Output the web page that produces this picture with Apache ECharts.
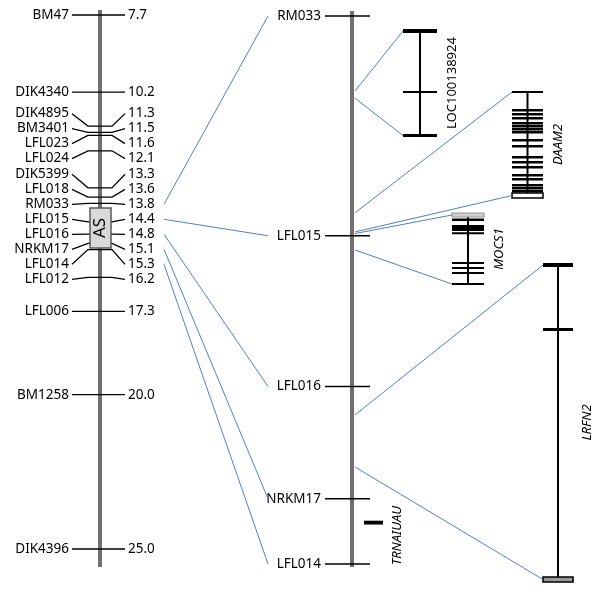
<!DOCTYPE html>
<html><head><meta charset="utf-8">
<script src="https://cdn.jsdelivr.net/npm/echarts@6/dist/echarts.min.js"></script>
<style>html,body{margin:0;padding:0;background:#fff}#c{width:600px;height:593px}</style>
</head><body><div id="c"></div>
<script>
// ================= DATA =================
// Linkage map (cM)
const leftMarkers = ['BM47','DIK4340','DIK4895','BM3401','LFL023','LFL024','DIK5399','LFL018','RM033','LFL015','LFL016','NRKM17','LFL014','LFL012','LFL006','BM1258','DIK4396'];
const leftPositions = [7.7,10.2,11.3,11.5,11.6,12.1,13.3,13.6,13.8,14.4,14.8,15.1,15.3,16.2,17.3,20.0,25.0];
const asLabel = 'AS';
const asRegion = [13.95, 15.25];
// Physical map of the AS region (kb from RM033)
const middleMarkers = ['RM033','LFL015','LFL016','NRKM17','LFL014'];
const middlePositions = [0, 401, 676, 881, 1000];
// Genes: name, span on physical map (kb)
const geneNames = ['LOC100138924','DAAM2','MOCS1','LRFN2'];
const geneSpans = [[137,150],[359,394],[397,427],[728,823]];
const geneItalic = [false,true,true,true];
// Gene structures (relative units along gene), [start,end,type]
const locElements = [[0,4,'exon'],[62,64,'exon'],[105,108,'exon']];
const daam2Elements = [[0,2,'exon'],[18,20.5,'exon'],[22,24.5,'exon'],[26,28.5,'exon'],[31,33.5,'exon'],[34,36.5,'exon'],[37,39.5,'exon'],[40,42.5,'exon'],[48,50.5,'exon'],[54,56.5,'exon'],[65,67.5,'exon'],[70,72.5,'exon'],[75,77.5,'exon'],[83,85.5,'exon'],[87,89.5,'exon'],[93,95.5,'exon'],[96,98.5,'exon'],[99,101.5,'exon'],[102,107,'utr']];
const mocs1Elements = [[0,4,'utrGray'],[5.5,8,'exon'],[12,18,'exon'],[19.5,21,'exon'],[49,51,'exon'],[54,56,'exon'],[59,61,'exon'],[70,72,'exon']];
const lrfn2Elements = [[0,4,'exon'],[65,68,'exon'],[314,319,'utrBlack']];
const geneLengths = [108,107,72,319];
const trnaName = 'TRNAIUAU';
const trnaSpan = [921, 928];

// ================= LAYOUT =================
const W = 600, H = 593;
const LY = {
  leftChromX: 100, chromW: 4, leftTopPx: 15, leftBottomPx: 549,
  leftLabelRight: 69, leftValueLeft: 128, leftLineL: 72, leftBendL: 88, leftBendR: 112, leftLineR: 125,
  labelGapPx: 15, asX0: 90, asX1: 111,
  midChromX: 352, midTopPx: 16, midBottomPx: 564, midTickL: 325, midTickR: 370, midLabelRight: 321,
  chromTopPad: 5, chromBottomPad: 18, midBottomPad: 3,
  linkLeftX: 164, linkMidX: 268, chromLinkX: 355,
  trnaX0: 364, trnaX1: 383, trnaLabelX: 397, trnaLabelDy: 13
};
const geneLayout = [
  {cx: 420, w: 34, top: 29, labelX: 452},
  {cx: 527.5, w: 31, top: 91, labelX: 558},
  {cx: 468, w: 32, top: 213, labelX: 499},
  {cx: 558, w: 30, top: 263, labelX: 587}
];
const geneElements = [locElements, daam2Elements, mocs1Elements, lrfn2Elements];
const FONT = 'Noto Sans';
const FS = 13.5;
const chromColor = '#707070';
const linkColor = '#4f81bd';

// axis ranges so that first/last markers land at layout pixels
function axisRange(v0, v1, p0, p1) {
  const k = (p1 - p0) / (v1 - v0);
  const min = v0 - p0 / k;
  return {min: min, max: min + H / k, k: k};
}
const leftAx = axisRange(leftPositions[0], leftPositions[leftPositions.length-1], LY.leftTopPx, LY.leftBottomPx);
const midAx = axisRange(middlePositions[0], middlePositions[middlePositions.length-1], LY.midTopPx, LY.midBottomPx);
const geneAx = geneLayout.map((g, i) => axisRange(0, geneLengths[i], g.top, g.top + geneLengths[i]));

// label spreading (pool-adjacent-violators on positions with minimum gap)
function spread(pos, gap) {
  const z = pos.map((p, i) => p - gap * i);
  const blocks = [];
  z.forEach((v, i) => {
    blocks.push({sum: v, n: 1, start: i});
    while (blocks.length > 1) {
      const b = blocks[blocks.length-1], a = blocks[blocks.length-2];
      if (a.sum / a.n > b.sum / b.n) { a.sum += b.sum; a.n += b.n; blocks.pop(); } else break;
    }
  });
  const out = [];
  blocks.forEach(b => { for (let j = 0; j < b.n; j++) out.push(b.sum / b.n + gap * (b.start + j)); });
  return out;
}
const leftLabelPos = spread(leftPositions, LY.labelGapPx / leftAx.k);

// ================= CHART =================
const chart = echarts.init(document.getElementById('c'), null, {renderer: 'canvas'});
const yAxes = [leftAx, midAx].concat(geneAx).map(a => ({type: 'value', min: a.min, max: a.max, inverse: true, show: false, scale: true}));

function textEl(x, y, text, align, opts) {
  opts = opts || {};
  return {type: 'text', x: x, y: y, rotation: opts.rotation || 0,
    style: {text: text, align: align, verticalAlign: 'middle', fill: '#000',
      font: (opts.italic ? 'italic ' : '') + (opts.size || FS) + 'px "' + FONT + '"'}, z2: 10};
}

const series = [];
// left chromosome bar
series.push({type: 'custom', xAxisIndex: 0, yAxisIndex: 0, z: 1, data: [[0, leftPositions[0]]],
  renderItem: (p, api) => {
    const a = api.coord([LY.leftChromX, leftPositions[0]]);
    const b = api.coord([LY.leftChromX, leftPositions[leftPositions.length-1]]);
    return {type: 'rect', shape: {x: a[0] - LY.chromW/2, y: a[1] - LY.chromTopPad, width: LY.chromW, height: b[1] - a[1] + LY.chromTopPad + LY.chromBottomPad}, style: {fill: chromColor}};
  }});
// left markers
series.push({type: 'custom', xAxisIndex: 0, yAxisIndex: 0, z: 2, data: leftPositions.map(v => [0, v]),
  renderItem: (p, api) => {
    const i = p.dataIndex;
    const py = api.coord([0, leftPositions[i]])[1];
    const ly = api.coord([0, leftLabelPos[i]])[1];
    const X = v => api.coord([v, leftPositions[i]])[0];
    return {type: 'group', children: [
      {type: 'polyline', shape: {points: [[X(LY.leftLineL), ly], [X(LY.leftBendL), py], [X(LY.leftBendR), py], [X(LY.leftLineR), ly]]}, style: {stroke: '#000', lineWidth: 1.3, fill: null}},
      textEl(X(LY.leftLabelRight), ly, leftMarkers[i], 'right'),
      textEl(X(LY.leftValueLeft), ly, leftPositions[i].toFixed(1), 'left')
    ]};
  }});
// AS region box
series.push({type: 'custom', xAxisIndex: 0, yAxisIndex: 0, z: 3, data: [[0, asRegion[0]]],
  renderItem: (p, api) => {
    const a = api.coord([LY.asX0, asRegion[0]]), b = api.coord([LY.asX1, asRegion[1]]);
    return {type: 'group', children: [
      {type: 'rect', shape: {x: a[0], y: a[1], width: b[0] - a[0], height: b[1] - a[1]}, style: {fill: '#d9d9d9', stroke: '#595959', lineWidth: 1.5}},
      textEl((a[0] + b[0]) / 2, (a[1] + b[1]) / 2, asLabel, 'center', {rotation: Math.PI / 2, size: 17})
    ]};
  }});
// middle chromosome bar
series.push({type: 'custom', xAxisIndex: 0, yAxisIndex: 1, z: 1, data: [[0, middlePositions[0]]],
  renderItem: (p, api) => {
    const a = api.coord([LY.midChromX, middlePositions[0]]);
    const b = api.coord([LY.midChromX, middlePositions[middlePositions.length-1]]);
    return {type: 'rect', shape: {x: a[0] - LY.chromW/2, y: a[1] - LY.chromTopPad, width: LY.chromW, height: b[1] - a[1] + LY.chromTopPad + LY.midBottomPad}, style: {fill: chromColor}};
  }});
// middle markers
series.push({type: 'custom', xAxisIndex: 0, yAxisIndex: 1, z: 2, data: middlePositions.map(v => [0, v]),
  renderItem: (p, api) => {
    const i = p.dataIndex;
    const a = api.coord([LY.midTickL, middlePositions[i]]), b = api.coord([LY.midTickR, middlePositions[i]]);
    const t = api.coord([LY.midLabelRight, middlePositions[i]]);
    return {type: 'group', children: [
      {type: 'line', shape: {x1: a[0], y1: a[1], x2: b[0], y2: b[1]}, style: {stroke: '#000', lineWidth: 1.5}},
      textEl(t[0], t[1], middleMarkers[i], 'right')
    ]};
  }});
// tRNA gene
series.push({type: 'custom', xAxisIndex: 0, yAxisIndex: 1, z: 2, data: [[0, trnaSpan[0]]],
  renderItem: (p, api) => {
    const a = api.coord([LY.trnaX0, trnaSpan[0]]), b = api.coord([LY.trnaX1, trnaSpan[1]]);
    const lx = api.coord([LY.trnaLabelX, 0])[0];
    return {type: 'group', children: [
      {type: 'rect', shape: {x: a[0], y: a[1], width: b[0] - a[0], height: Math.max(3, b[1] - a[1])}, style: {fill: '#000'}},
      textEl(lx, (a[1] + b[1]) / 2 + LY.trnaLabelDy, trnaName, 'center', {rotation: Math.PI / 2, italic: true, size: 13})
    ]};
  }});
// genes
geneElements.forEach((els, g) => {
  const lay = geneLayout[g];
  series.push({type: 'custom', xAxisIndex: 0, yAxisIndex: 2 + g, z: 2, data: [[0, 0]],
    renderItem: (p, api) => {
      const X0 = api.coord([lay.cx - lay.w/2, 0])[0], X1 = api.coord([lay.cx + lay.w/2, 0])[0], XC = api.coord([lay.cx, 0])[0];
      const first = els[0], last = els[els.length-1];
      const yA = api.coord([0, (first[0] + first[1]) / 2])[1], yB = api.coord([0, (last[0] + last[1]) / 2])[1];
      const ch = [{type: 'line', shape: {x1: XC, y1: yA, x2: XC, y2: yB}, style: {stroke: '#000', lineWidth: 2}}];
      els.forEach(e => {
        let y0 = api.coord([0, e[0]])[1], y1 = api.coord([0, e[1]])[1];
        let h = y1 - y0;
        if (h < 2) { const c = (y0 + y1) / 2; y0 = c - 1; h = 2; }
        let style = {fill: '#000'};
        if (e[2] === 'utr') style = {fill: '#fff', stroke: '#000', lineWidth: 1.5};
        if (e[2] === 'utrGray') style = {fill: '#cfcfcf', stroke: '#9a9a9a', lineWidth: 1.2};
        if (e[2] === 'utrBlack') style = {fill: '#9a9a9a', stroke: '#000', lineWidth: 1.6};
        ch.push({type: 'rect', shape: {x: X0, y: y0, width: X1 - X0, height: h}, style: style});
      });
      const ly = (api.coord([0, 0])[1] + api.coord([0, geneLengths[g]])[1]) / 2;
      ch.push(textEl(api.coord([lay.labelX, 0])[0], ly, geneNames[g], 'center', {rotation: Math.PI / 2, italic: geneItalic[g], size: 13}));
      return {type: 'group', children: ch};
    }});
});

chart.setOption({
  animation: false,
  grid: {left: 0, right: 0, top: 0, bottom: 0, containLabel: false},
  xAxis: {type: 'value', min: 0, max: W, show: false},
  yAxis: yAxes,
  series: series
});

// connecting links (computed through the axes)
const pxX = v => chart.convertToPixel({xAxisIndex: 0}, v);
const pxY = (ax, v) => chart.convertToPixel({yAxisIndex: ax}, v);
const links = [];
middleMarkers.forEach((m, j) => {
  const i = leftMarkers.indexOf(m);
  if (i < 0) return;
  links.push([[pxX(LY.linkLeftX), pxY(0, leftLabelPos[i])], [pxX(LY.linkMidX), pxY(1, middlePositions[j])]]);
});
geneSpans.forEach((s, g) => {
  const els = geneElements[g], lay = geneLayout[g];
  const first = els[0], last = els[els.length-1];
  const gx = pxX(lay.cx - lay.w/2);
  links.push([[pxX(LY.chromLinkX), pxY(1, s[0])], [gx, pxY(2 + g, (first[0] + first[1]) / 2)]]);
  links.push([[pxX(LY.chromLinkX), pxY(1, s[1])], [gx, pxY(2 + g, (last[0] + last[1]) / 2)]]);
});
chart.setOption({graphic: links.map(l => ({type: 'line', z: 5, shape: {x1: l[0][0], y1: l[0][1], x2: l[1][0], y2: l[1][1]}, style: {stroke: linkColor, lineWidth: 1}}))});
</script></body></html>
